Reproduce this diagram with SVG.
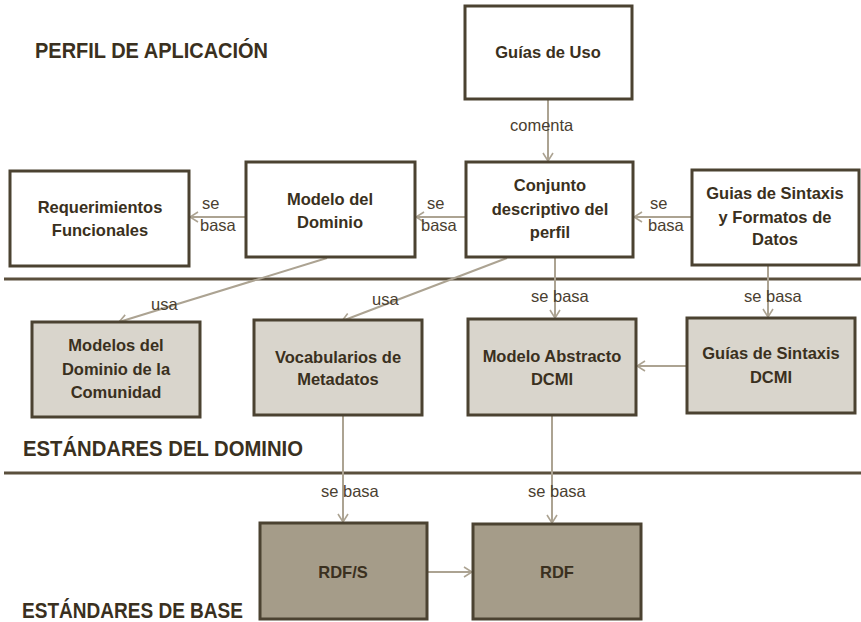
<svg xmlns="http://www.w3.org/2000/svg" width="861" height="622" viewBox="0 0 861 622">
<defs>
<style>
.box{stroke:#4b4231;stroke-width:3}
.w{fill:#ffffff}
.m{fill:#d9d5cc}
.b{fill:#a59c89}
.t{font-family:"Liberation Sans",Arial,sans-serif;font-weight:bold;font-size:16.5px;fill:#3a3020;text-anchor:middle}
.h{font-family:"Liberation Sans",Arial,sans-serif;font-weight:bold;font-size:22px;fill:#3a3020}
.l{font-family:"Liberation Sans",Arial,sans-serif;font-size:16.5px;fill:#4a4030}
.c{stroke:#aca392;stroke-width:2;fill:none}
.sep{stroke:#5a4f3c;stroke-width:3}
</style>
<marker id="a" viewBox="0 0 12 12" refX="11" refY="6" markerWidth="12" markerHeight="12" markerUnits="userSpaceOnUse" orient="auto">
<polyline points="3,1 11,6 3,11" fill="none" stroke="#aca392" stroke-width="1.6"/>
</marker>
</defs>
<rect width="861" height="622" fill="#ffffff"/>

<g id="headings">
<text class="h" x="35" y="58" textLength="233" lengthAdjust="spacingAndGlyphs">PERFIL DE APLICACIÓN</text>
<text class="h" x="23" y="456" textLength="280" lengthAdjust="spacingAndGlyphs">ESTÁNDARES DEL DOMINIO</text>
<text class="h" x="22" y="618" textLength="221" lengthAdjust="spacingAndGlyphs">ESTÁNDARES DE BASE</text>
</g>

<g id="separators">
<line class="sep" x1="4" y1="279" x2="861" y2="279"/>
<line class="sep" x1="4" y1="473" x2="861" y2="473"/>
</g>

<g id="connectors">
<line class="c" x1="548" y1="100" x2="548" y2="161" marker-end="url(#a)"/>
<line class="c" x1="466" y1="217" x2="416" y2="217" marker-end="url(#a)"/>
<line class="c" x1="246" y1="217" x2="190" y2="217" marker-end="url(#a)"/>
<line class="c" x1="692" y1="217" x2="634" y2="217" marker-end="url(#a)"/>
<line class="c" x1="327" y1="258" x2="119" y2="322" marker-end="url(#a)"/>
<line class="c" x1="507" y1="258" x2="342" y2="321" marker-end="url(#a)"/>
<line class="c" x1="555" y1="258" x2="555" y2="318" marker-end="url(#a)"/>
<line class="c" x1="768" y1="257" x2="768" y2="317" marker-end="url(#a)"/>
<line class="c" x1="687" y1="366" x2="637" y2="366" marker-end="url(#a)"/>
<line class="c" x1="343" y1="416" x2="343" y2="522" marker-end="url(#a)"/>
<line class="c" x1="552" y1="416" x2="552" y2="523" marker-end="url(#a)"/>
<line class="c" x1="428" y1="572" x2="472" y2="572" marker-end="url(#a)"/>
<text class="l" x="510" y="131">comenta</text>
<text class="l" x="427" y="209">se</text>
<text class="l" x="421" y="231">basa</text>
<text class="l" x="202" y="209">se</text>
<text class="l" x="200" y="231">basa</text>
<text class="l" x="650" y="209">se</text>
<text class="l" x="648" y="231">basa</text>
<text class="l" x="151" y="310">usa</text>
<text class="l" x="372" y="305">usa</text>
<text class="l" x="531" y="302">se basa</text>
<text class="l" x="744" y="302">se basa</text>
<text class="l" x="321" y="497">se basa</text>
<text class="l" x="528" y="497">se basa</text>
</g>

<g id="guias-uso">
<rect class="box w" x="465" y="6" width="167" height="93"/>
<text class="t" x="548" y="58">Guías de Uso</text>
</g>
<g id="conjunto">
<rect class="box w" x="466" y="162" width="167" height="95"/>
<text class="t" x="550" y="191">Conjunto</text>
<text class="t" x="550" y="215">descriptivo del</text>
<text class="t" x="550" y="238">perfil</text>
</g>
<g id="guias-sintaxis-formatos">
<rect class="box w" x="692" y="170" width="167" height="95"/>
<text class="t" x="775" y="199">Guias de Sintaxis</text>
<text class="t" x="775" y="223">y Formatos de</text>
<text class="t" x="775" y="245">Datos</text>
</g>
<g id="modelo-dominio">
<rect class="box w" x="246" y="162" width="169" height="95"/>
<text class="t" x="330" y="205">Modelo del</text>
<text class="t" x="330" y="228">Dominio</text>
</g>
<g id="requerimientos">
<rect class="box w" x="10" y="171" width="179" height="95"/>
<text class="t" x="100" y="213">Requerimientos</text>
<text class="t" x="100" y="236">Funcionales</text>
</g>
<g id="modelos-comunidad">
<rect class="box m" x="32" y="322" width="168" height="95"/>
<text class="t" x="116" y="351">Modelos del</text>
<text class="t" x="116" y="375">Dominio de la</text>
<text class="t" x="116" y="398">Comunidad</text>
</g>
<g id="vocabularios">
<rect class="box m" x="254" y="320" width="168" height="95"/>
<text class="t" x="338" y="363">Vocabularios de</text>
<text class="t" x="338" y="385">Metadatos</text>
</g>
<g id="modelo-abstracto">
<rect class="box m" x="468" y="319" width="168" height="96"/>
<text class="t" x="552" y="362">Modelo Abstracto</text>
<text class="t" x="552" y="385">DCMI</text>
</g>
<g id="guias-sintaxis-dcmi">
<rect class="box m" x="687" y="318" width="168" height="95"/>
<text class="t" x="771" y="359">Guías de Sintaxis</text>
<text class="t" x="771" y="383">DCMI</text>
</g>
<g id="rdfs">
<rect class="box b" x="260" y="523" width="167" height="96"/>
<text class="t" x="343" y="578">RDF/S</text>
</g>
<g id="rdf">
<rect class="box b" x="473" y="524" width="168" height="95"/>
<text class="t" x="557" y="578">RDF</text>
</g>
</svg>
